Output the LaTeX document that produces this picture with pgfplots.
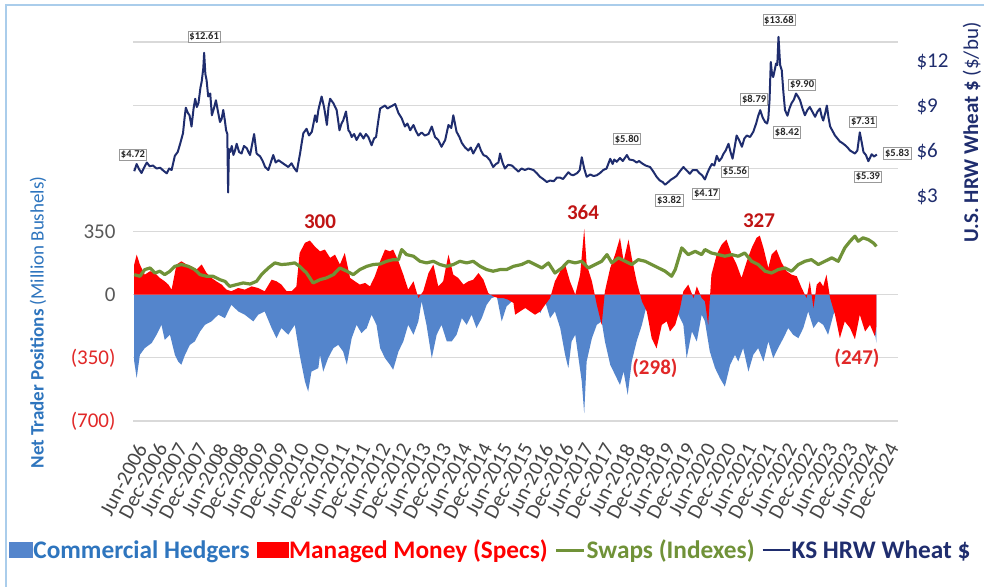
\documentclass[border=0pt]{standalone}
\usepackage{fontspec}
\setmainfont{Carlito}
\usepackage{pgfplots}
\usepackage{pgfplotstable}
\pgfplotsset{compat=1.18}
\newcommand{\fsz}[1]{\fontsize{#1}{#1}\selectfont}
\definecolor{cblue}{RGB}{84,133,204}
\definecolor{mred}{RGB}{255,0,0}
\definecolor{swgreen}{RGB}{112,146,56}
\definecolor{navy}{RGB}{31,45,110}
\definecolor{titleblue}{RGB}{46,117,190}
\definecolor{darkred}{RGB}{192,20,20}
\definecolor{negred}{RGB}{225,40,40}
\definecolor{gridgray}{RGB}{217,217,217}
\definecolor{framebl}{RGB}{170,205,235}
\definecolor{axgray}{RGB}{89,89,89}
\definecolor{lblgray}{RGB}{70,70,70}
\tikzset{pl/.style={draw=gray!80, fill=white, font=\bfseries\fsz{10.5}, inner sep=1.5pt, text=black!85}}

\pgfplotstableread{
x y
2006.40 4.72
2006.46 5.20
2006.52 4.85
2006.58 4.60
2006.64 4.95
2006.71 5.30
2006.78 5.05
2006.86 5.10
2006.95 4.90
2007.04 4.95
2007.12 4.75
2007.20 4.58
2007.26 4.90
2007.32 4.80
2007.40 5.75
2007.47 6.00
2007.53 6.55
2007.60 7.25
2007.64 8.30
2007.67 8.95
2007.72 8.60
2007.76 8.45
2007.81 7.70
2007.86 8.90
2007.90 9.55
2007.94 9.00
2007.98 9.25
2008.03 10.30
2008.06 10.70
2008.10 11.60
2008.12 12.61
2008.15 11.20
2008.18 10.80
2008.22 9.70
2008.27 9.90
2008.31 8.45
2008.36 8.90
2008.41 9.45
2008.46 8.70
2008.51 8.00
2008.55 8.20
2008.59 8.80
2008.63 8.10
2008.66 7.45
2008.69 7.20
2008.71 3.30
2008.73 6.20
2008.76 6.00
2008.80 6.40
2008.84 5.80
2008.88 6.10
2008.92 6.55
2008.98 6.00
2009.04 5.90
2009.10 6.40
2009.17 6.25
2009.21 6.00
2009.25 5.80
2009.30 6.50
2009.35 7.20
2009.41 5.90
2009.50 5.70
2009.56 5.40
2009.62 5.00
2009.70 4.80
2009.76 5.30
2009.82 5.80
2009.88 5.30
2009.95 5.45
2010.03 5.30
2010.11 5.15
2010.19 5.00
2010.27 5.25
2010.33 4.95
2010.40 4.70
2010.48 5.90
2010.52 6.60
2010.56 7.25
2010.64 7.55
2010.70 7.10
2010.77 7.35
2010.81 7.90
2010.85 8.45
2010.89 8.00
2010.93 8.80
2011.01 9.70
2011.07 9.00
2011.10 8.50
2011.14 7.80
2011.18 9.00
2011.22 9.55
2011.30 9.25
2011.38 8.80
2011.45 7.45
2011.50 7.90
2011.54 8.10
2011.61 8.70
2011.67 7.45
2011.71 7.30
2011.75 7.00
2011.81 7.20
2011.87 6.80
2011.96 7.25
2012.04 6.90
2012.10 7.20
2012.16 7.00
2012.24 6.45
2012.30 6.90
2012.35 7.00
2012.40 8.00
2012.45 8.90
2012.51 9.00
2012.57 9.10
2012.63 8.90
2012.69 9.00
2012.76 9.10
2012.82 9.20
2012.90 8.60
2012.98 8.25
2013.06 7.70
2013.12 7.90
2013.19 7.45
2013.27 7.80
2013.33 7.40
2013.39 7.10
2013.47 7.30
2013.55 7.10
2013.64 7.20
2013.72 7.70
2013.80 7.00
2013.88 6.80
2013.96 6.35
2014.05 6.80
2014.13 7.80
2014.20 7.60
2014.25 8.45
2014.29 7.90
2014.33 7.35
2014.40 7.00
2014.46 6.60
2014.54 6.30
2014.62 6.10
2014.68 6.30
2014.74 5.90
2014.80 6.20
2014.87 6.55
2014.93 6.10
2014.99 5.80
2015.07 5.70
2015.15 5.45
2015.23 5.00
2015.30 5.20
2015.36 5.30
2015.40 5.90
2015.46 5.30
2015.52 4.90
2015.60 5.15
2015.69 5.10
2015.77 4.90
2015.85 4.70
2015.93 4.90
2016.01 4.80
2016.10 4.90
2016.22 4.80
2016.30 4.60
2016.38 4.35
2016.46 4.20
2016.55 4.00
2016.63 4.10
2016.72 4.05
2016.80 4.30
2016.87 4.30
2016.95 4.20
2017.08 4.65
2017.14 4.50
2017.20 4.45
2017.30 4.60
2017.36 4.80
2017.41 5.65
2017.47 4.90
2017.53 4.35
2017.62 4.50
2017.70 4.40
2017.78 4.45
2017.86 4.60
2017.94 4.80
2018.02 4.90
2018.11 5.55
2018.17 5.20
2018.21 5.50
2018.27 5.35
2018.35 5.60
2018.42 5.40
2018.52 5.80
2018.58 5.50
2018.68 5.45
2018.76 5.30
2018.82 5.40
2018.89 5.25
2018.98 5.10
2019.09 5.00
2019.17 4.70
2019.25 4.35
2019.33 4.10
2019.40 4.00
2019.46 3.82
2019.54 4.00
2019.60 4.15
2019.66 4.25
2019.74 4.40
2019.82 4.70
2019.91 5.00
2019.98 4.80
2020.07 4.55
2020.14 4.80
2020.24 4.80
2020.30 4.60
2020.37 4.45
2020.44 4.17
2020.50 4.60
2020.55 4.90
2020.61 5.20
2020.67 5.10
2020.73 5.75
2020.79 5.40
2020.85 5.60
2020.89 5.85
2020.95 6.10
2021.02 6.55
2021.07 6.00
2021.12 5.56
2021.17 6.30
2021.22 7.10
2021.28 6.80
2021.35 6.35
2021.41 6.90
2021.47 7.10
2021.55 7.00
2021.63 7.35
2021.70 7.90
2021.75 8.40
2021.80 8.79
2021.86 8.30
2021.92 8.00
2021.97 7.90
2022.00 8.25
2022.03 9.50
2022.06 12.00
2022.09 11.20
2022.12 11.00
2022.16 11.50
2022.19 11.90
2022.22 11.80
2022.25 13.68
2022.29 11.80
2022.33 11.45
2022.37 10.00
2022.41 8.80
2022.47 8.42
2022.52 8.90
2022.57 9.25
2022.63 9.50
2022.68 9.90
2022.73 9.70
2022.78 9.45
2022.84 8.90
2022.90 8.45
2022.96 8.80
2023.02 9.00
2023.08 8.70
2023.15 8.35
2023.21 8.70
2023.27 8.90
2023.31 8.40
2023.35 8.10
2023.40 8.60
2023.44 9.10
2023.48 8.30
2023.52 7.70
2023.58 7.40
2023.64 7.10
2023.70 6.90
2023.76 6.70
2023.82 6.60
2023.89 6.45
2023.95 6.30
2024.01 6.10
2024.07 6.00
2024.13 5.90
2024.19 6.10
2024.25 7.31
2024.30 6.60
2024.34 6.00
2024.40 5.80
2024.46 5.39
2024.50 5.60
2024.54 5.85
2024.60 5.70
2024.67 5.83
}\pricedata

\pgfplotstableread{
x y
2006.40 -370
2006.46 -462
2006.54 -333
2006.66 -296
2006.83 -268
2006.95 -222
2007.07 -167
2007.15 -250
2007.28 -222
2007.40 -333
2007.48 -370
2007.56 -388
2007.65 -333
2007.77 -278
2007.89 -259
2008.02 -204
2008.14 -167
2008.30 -148
2008.47 -111
2008.63 -130
2008.79 -56
2008.96 -93
2009.12 -111
2009.33 -148
2009.45 -111
2009.61 -93
2009.78 -185
2009.90 -241
2010.02 -185
2010.19 -222
2010.35 -167
2010.47 -333
2010.60 -481
2010.68 -537
2010.76 -426
2010.93 -407
2010.97 -333
2011.05 -426
2011.17 -352
2011.30 -296
2011.42 -278
2011.54 -315
2011.63 -388
2011.75 -241
2011.87 -167
2011.99 -213
2012.12 -185
2012.24 -111
2012.36 -167
2012.45 -296
2012.57 -352
2012.69 -388
2012.77 -416
2012.90 -315
2013.02 -259
2013.14 -167
2013.27 -222
2013.39 -148
2013.47 -37
2013.59 -167
2013.72 -352
2013.84 -222
2013.96 -167
2014.09 -259
2014.21 -259
2014.33 -222
2014.46 -130
2014.58 -167
2014.70 -111
2014.82 -185
2014.95 -130
2015.07 -56
2015.19 -19
2015.32 -9
2015.44 -148
2015.56 -65
2015.73 -28
2015.77 -19
2015.89 -9
2016.02 -56
2016.14 -83
2016.26 -46
2016.39 -102
2016.51 -37
2016.63 -130
2016.75 -93
2016.88 -185
2017.00 -333
2017.08 -407
2017.16 -259
2017.25 -222
2017.33 -352
2017.41 -481
2017.47 -657
2017.53 -370
2017.66 -241
2017.78 -167
2017.90 -148
2017.98 -259
2018.11 -388
2018.23 -444
2018.35 -500
2018.44 -426
2018.54 -555
2018.64 -370
2018.76 -259
2018.89 -167
2019.01 -56
2019.13 -19
2019.30 -19
2019.46 -9
2019.62 -28
2019.79 -111
2019.91 -167
2019.99 -352
2020.12 -204
2020.24 -259
2020.36 -111
2020.44 -148
2020.56 -315
2020.69 -407
2020.81 -463
2020.93 -509
2021.06 -389
2021.18 -333
2021.26 -370
2021.38 -296
2021.51 -426
2021.63 -333
2021.75 -296
2021.88 -370
2022.00 -259
2022.12 -352
2022.24 -296
2022.37 -241
2022.49 -185
2022.61 -222
2022.74 -241
2022.86 -185
2022.98 -93
2023.11 -185
2023.23 -148
2023.35 -167
2023.47 -222
2023.60 -111
2023.72 -56
2023.88 -37
2024.05 -19
2024.21 -19
2024.38 -28
2024.54 -93
2024.66 -268
}\chdata

\pgfplotstableread{
x y
2006.40 167
2006.46 222
2006.54 167
2006.66 111
2006.79 130
2006.91 120
2007.03 93
2007.15 74
2007.24 56
2007.32 28
2007.44 167
2007.56 185
2007.69 167
2007.81 157
2007.93 139
2008.06 167
2008.18 120
2008.30 93
2008.42 74
2008.55 56
2008.67 28
2008.79 19
2008.96 37
2009.12 28
2009.29 46
2009.45 37
2009.61 19
2009.78 83
2009.90 74
2010.02 56
2010.15 19
2010.27 19
2010.39 46
2010.47 231
2010.60 287
2010.72 300
2010.84 268
2010.97 240
2011.09 250
2011.22 204
2011.34 222
2011.46 167
2011.58 231
2011.71 93
2011.83 74
2011.95 56
2012.08 65
2012.20 46
2012.32 102
2012.45 185
2012.57 250
2012.69 240
2012.77 250
2012.90 185
2013.02 111
2013.14 28
2013.27 74
2013.39 -19
2013.51 19
2013.64 120
2013.76 167
2013.88 46
2014.00 74
2014.13 222
2014.25 111
2014.37 93
2014.50 56
2014.62 74
2014.74 83
2014.87 120
2014.99 83
2015.11 9
2015.23 -9
2015.36 -19
2015.48 -19
2015.60 -28
2015.73 -46
2015.77 -111
2015.89 -93
2016.02 -74
2016.14 -93
2016.26 -111
2016.39 -93
2016.51 -56
2016.63 -19
2016.75 74
2016.88 130
2017.00 167
2017.12 74
2017.25 0
2017.37 111
2017.47 364
2017.53 167
2017.66 74
2017.78 -56
2017.90 -167
2017.98 19
2018.11 148
2018.23 222
2018.35 315
2018.44 185
2018.56 305
2018.64 204
2018.76 74
2018.89 -37
2019.01 -93
2019.13 -241
2019.25 -298
2019.38 -167
2019.50 -148
2019.58 -204
2019.71 -167
2019.83 -74
2019.91 19
2020.03 56
2020.16 -19
2020.24 46
2020.36 -19
2020.44 -37
2020.52 -167
2020.60 111
2020.73 222
2020.85 277
2020.97 305
2021.10 222
2021.22 167
2021.34 93
2021.47 185
2021.59 259
2021.71 315
2021.79 327
2021.88 259
2022.00 148
2022.08 222
2022.20 250
2022.33 176
2022.45 130
2022.57 111
2022.70 102
2022.82 37
2022.94 -19
2023.02 74
2023.11 -74
2023.19 56
2023.27 74
2023.35 46
2023.43 111
2023.52 -19
2023.64 -111
2023.76 -241
2023.88 -148
2024.01 -185
2024.13 -247
2024.25 -111
2024.38 -204
2024.50 -167
2024.62 -230
2024.66 -170
}\mmdata

\pgfplotstableread{
x y
2006.40 111
2006.54 102
2006.66 139
2006.79 148
2006.91 120
2007.03 130
2007.15 111
2007.28 130
2007.40 157
2007.56 167
2007.73 157
2007.89 139
2008.02 111
2008.18 102
2008.34 102
2008.51 83
2008.63 74
2008.75 46
2008.92 56
2009.08 65
2009.25 59
2009.41 74
2009.53 111
2009.70 148
2009.86 176
2010.02 167
2010.19 170
2010.35 176
2010.47 157
2010.64 120
2010.80 65
2010.97 83
2011.13 93
2011.30 111
2011.46 148
2011.63 130
2011.79 111
2011.95 139
2012.12 157
2012.28 167
2012.45 170
2012.61 185
2012.77 194
2012.90 194
2012.98 250
2013.10 222
2013.27 213
2013.43 185
2013.59 176
2013.76 185
2013.92 167
2014.09 157
2014.25 167
2014.41 185
2014.58 176
2014.74 185
2014.91 157
2015.07 139
2015.23 130
2015.40 139
2015.56 139
2015.73 157
2015.93 167
2016.10 185
2016.26 167
2016.43 148
2016.59 176
2016.75 120
2016.92 148
2017.08 185
2017.25 176
2017.41 185
2017.57 148
2017.74 167
2017.90 185
2018.03 222
2018.15 176
2018.31 204
2018.48 185
2018.64 167
2018.80 194
2018.97 185
2019.13 167
2019.30 148
2019.46 130
2019.62 102
2019.71 139
2019.87 259
2020.03 222
2020.20 240
2020.36 222
2020.44 250
2020.60 231
2020.77 222
2020.93 213
2021.10 222
2021.26 213
2021.42 231
2021.59 185
2021.75 167
2021.92 130
2022.08 120
2022.24 139
2022.41 148
2022.57 130
2022.74 167
2022.90 185
2023.06 194
2023.23 167
2023.39 185
2023.56 204
2023.72 185
2023.88 259
2024.01 296
2024.13 324
2024.21 296
2024.33 315
2024.46 305
2024.58 287
2024.66 268
}\swdata

\begin{document}
\begin{tikzpicture}
\path[use as bounding box] (0,0) rectangle (984pt,586pt);
\fill[white] (0,0) rectangle (984pt,586pt);
\draw[framebl, line width=1.5pt] (6pt,-5pt) -- (6pt,581pt) -- (990pt,581pt);

\begin{axis}[
  at={(133pt,165pt)}, anchor=south west,
  scale only axis, width=765pt, height=401pt,
  xmin=2006.37, xmax=2025.19, ymin=-700, ymax=1522,
  clip=false,
  axis line style={draw=none},
  major tick length=0pt,
  ytick={-700,-350,0,350,700,1050,1400},
  yticklabels={{\textcolor{negred}{(700)}},{\textcolor{negred}{(350)}},{\textcolor{axgray}{0}},{\textcolor{axgray}{350}},{},{},{}},
  yticklabel style={font=\fsz{21}, anchor=east, xshift=-14pt},
  ymajorgrids, grid style={gridgray, line width=1.3pt},
  xtick={2006.42,2006.92,2007.42,2007.92,2008.42,2008.92,2009.42,2009.92,2010.42,2010.92,2011.42,2011.92,2012.42,2012.92,2013.42,2013.92,2014.42,2014.92,2015.42,2015.92,2016.42,2016.92,2017.42,2017.92,2018.42,2018.92,2019.42,2019.92,2020.42,2020.92,2021.42,2021.92,2022.42,2022.92,2023.42,2023.92,2024.42,2024.92},
  xticklabels={Jun-2006,Dec-2006,Jun-2007,Dec-2007,Jun-2008,Dec-2008,Jun-2009,Dec-2009,Jun-2010,Dec-2010,Jun-2011,Dec-2011,Jun-2012,Dec-2012,Jun-2013,Dec-2013,Jun-2014,Dec-2014,Jun-2015,Dec-2015,Jun-2016,Dec-2016,Jun-2017,Dec-2017,Jun-2018,Dec-2018,Jun-2019,Dec-2019,Jun-2020,Dec-2020,Jun-2021,Dec-2021,Jun-2022,Dec-2022,Jun-2023,Dec-2023,Jun-2024,Dec-2024},
  xticklabel style={font=\fsz{21}, text=lblgray, yshift=-20pt, rotate=62, anchor=north east, inner sep=0.5pt},
  ylabel={\textbf{Net Trader Positions} (Million Bushels)},
  every axis y label/.style={at={(axis description cs:-0.1242,0.2456)}, rotate=90, anchor=center, font=\fsz{19}, text=titleblue},
]
\addplot[fill=cblue, draw=none] table {\chdata} \closedcycle;
\addplot[fill=mred, draw=none] table {\mmdata} \closedcycle;
\addplot[swgreen, line width=3.2pt, line join=round] table {\swdata};
\node[font=\bfseries\fsz{21}, text=darkred] at (axis cs:2010.97,403) {300};
\node[font=\bfseries\fsz{21}, text=darkred] at (axis cs:2017.44,458) {364};
\node[font=\bfseries\fsz{21}, text=darkred] at (axis cs:2021.77,408) {327};
\node[font=\bfseries\fsz{21}, text=negred] at (axis cs:2019.21,-406) {(298)};
\node[font=\bfseries\fsz{21}, text=negred] at (axis cs:2024.18,-351) {(247)};
\end{axis}

\begin{axis}[
  at={(133pt,165pt)}, anchor=south west,
  scale only axis, width=765pt, height=401pt,
  xmin=2006.37, xmax=2025.19, ymin=-11.93, ymax=14.8,
  clip=false,
  axis x line=none, axis y line*=right,
  axis line style={draw=none},
  major tick length=0pt,
  ytick={3,6,9,12}, yticklabels={\$3,\$6,\$9,\$12},
  yticklabel style={font=\fsz{21}, text=navy, anchor=west, xshift=15pt},
  ylabel={\textbf{U.S. HRW Wheat \$} (\$/bu)},
  every axis y label/.style={at={(axis description cs:1.0967,0.7195)}, rotate=90, anchor=center, font=\fsz{21}, text=navy},
  legend style={at={(axis description cs:-0.1621,-0.3217)}, anchor=west, draw=none, fill=none, inner sep=0pt, outer sep=0pt, font=\bfseries\fsz{25.3}, nodes={inner sep=1pt}, /tikz/every even column/.append style={column sep=6pt}},
  legend columns=4, legend cell align=left,
]
\addlegendimage{legend image code/.code={\fill[cblue] (0pt,-7.5pt) rectangle (23pt,7.5pt);}}
\addlegendentry{\textcolor{titleblue}{Commercial Hedgers}}
\addlegendimage{legend image code/.code={\fill[mred] (0pt,-7.5pt) rectangle (31pt,7.5pt);}}
\addlegendentry{\textcolor{mred}{Managed Money (Specs)}}
\addlegendimage{legend image code/.code={\draw[swgreen, line width=3pt] (0pt,0pt) -- (28pt,0pt);}}
\addlegendentry{\textcolor{swgreen}{Swaps (Indexes)}}
\addplot[navy, line width=2pt, line join=round, legend image code/.code={\draw[navy, line width=2pt] (0pt,0pt) -- (27pt,0pt);}] table {\pricedata};
\addlegendentry{\textcolor{navy}{KS HRW Wheat \$}}
\node[pl] at (axis cs:2006.37,5.8) {\$4.72};
\node[pl] at (axis cs:2008.12,13.67) {\$12.61};
\node[pl] at (axis cs:2018.52,6.87) {\$5.80};
\node[pl] at (axis cs:2019.56,2.8) {\$3.82};
\node[pl] at (axis cs:2020.47,3.2) {\$4.17};
\node[pl] at (axis cs:2021.18,4.67) {\$5.56};
\node[pl] at (axis cs:2021.65,9.53) {\$8.79};
\node[pl] at (axis cs:2022.26,14.8) {\$13.68};
\node[pl] at (axis cs:2022.83,10.47) {\$9.90};
\node[pl] at (axis cs:2022.46,7.33) {\$8.42};
\node[pl] at (axis cs:2024.33,8.0) {\$7.31};
\node[pl] at (axis cs:2024.45,4.33) {\$5.39};
\node[pl] at (axis cs:2025.17,5.93) {\$5.83};
\end{axis}
\end{tikzpicture}
\end{document}
